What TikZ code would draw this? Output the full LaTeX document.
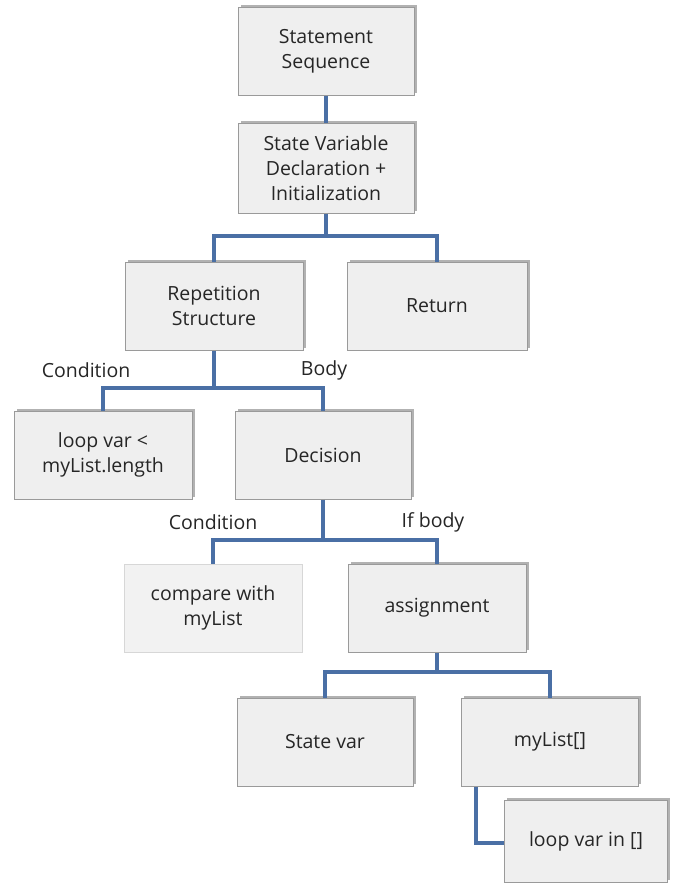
\documentclass[tikz,border=0pt]{standalone}
\usepackage{fontspec}
\setmainfont{Open Sans}
\usetikzlibrary{shadows}
\definecolor{boxfill}{HTML}{EFEFEF}
\definecolor{boxline}{HTML}{9A9A9A}
\definecolor{linkblue}{HTML}{4A6FA5}
\definecolor{inktext}{HTML}{262626}
\tikzset{
  treebox/.style={draw=boxline, fill=boxfill, line width=1pt,
    minimum width=176pt, minimum height=88pt, inner sep=2pt,
    align=center, text=inktext, font=\fontsize{19.5}{25}\selectfont,
    drop shadow={shadow xshift=2.5pt, shadow yshift=2.5pt, fill=black!50, opacity=0.6}},
  softbox/.style={draw=boxfill!90!black, fill=boxfill!80!white, line width=0.6pt,
    minimum width=178pt, minimum height=88pt, inner sep=2pt,
    align=center, text=inktext, font=\fontsize{19.5}{25}\selectfont},
  link/.style={draw=linkblue, line width=3.4pt},
  branchlabel/.style={text=inktext, font=\fontsize{19.5}{22}\selectfont, inner sep=0pt}
}
\begin{document}
\begin{tikzpicture}[x=1pt, y=-1pt]
  \useasboundingbox[fill=white] (0,0) rectangle (675,892);

  % boxes
  \node[treebox] (seq)    at (326,51)  {Statement\\Sequence};
  \node[treebox, minimum height=90pt] (decl) at (326,168) {State Variable\\Declaration +\\Initialization};
  \node[treebox, minimum width=178pt] (rep)  at (214,306) {Repetition\\Structure};
  \node[treebox, minimum width=180pt] (ret)  at (437,306) {Return};
  \node[treebox, minimum width=178pt] (cond) at (103,455) {loop var <\\myList.length};
  \node[treebox] (dec)    at (323,455) {Decision};
  \node[softbox] (cmp)    at (213,608) {compare with\\myList};
  \node[treebox, minimum width=178pt] (asg)  at (437,608) {assignment};
  \node[treebox] (svar)   at (325,742) {State var};
  \node[treebox, minimum width=177pt] (lst)  at (550,742) {myList[]};
  \node[treebox, minimum width=163pt, minimum height=82pt] (idx) at (586,841) {loop var in []};

  % branch labels
  \node[branchlabel] (lc1) at (86,370)  {Condition};
  \node[branchlabel] (lb1) at (324,370) {Body};
  \node[branchlabel] (lc2) at (213,522) {Condition};
  \node[branchlabel] (lb2) at (433,522) {If body};

  % junction points of the tree connectors
  \coordinate (j1) at (326,236);
  \coordinate (j2) at (214,388);
  \coordinate (j3) at (323,540);
  \coordinate (j4) at (437,672);
  \coordinate (j5) at (476,843);

  % connectors
  \draw[link] (seq.south) -- (decl.north);
  \draw[link] (decl.south) -- (j1) -| (rep.north);
  \draw[link] (j1) -| (ret.north);
  \draw[link] (rep.south) -- (j2) -| (cond.north);
  \draw[link] (j2) -| (dec.north);
  \draw[link] (dec.south) -- (j3) -| (cmp.north);
  \draw[link] (j3) -| (asg.north);
  \draw[link] (asg.south) -- (j4) -| (svar.north);
  \draw[link] (j4) -| (lst.north);
  \draw[link] (lst.south -| j5) -- (j5) -- (idx.west |- j5);
\end{tikzpicture}
\end{document}
